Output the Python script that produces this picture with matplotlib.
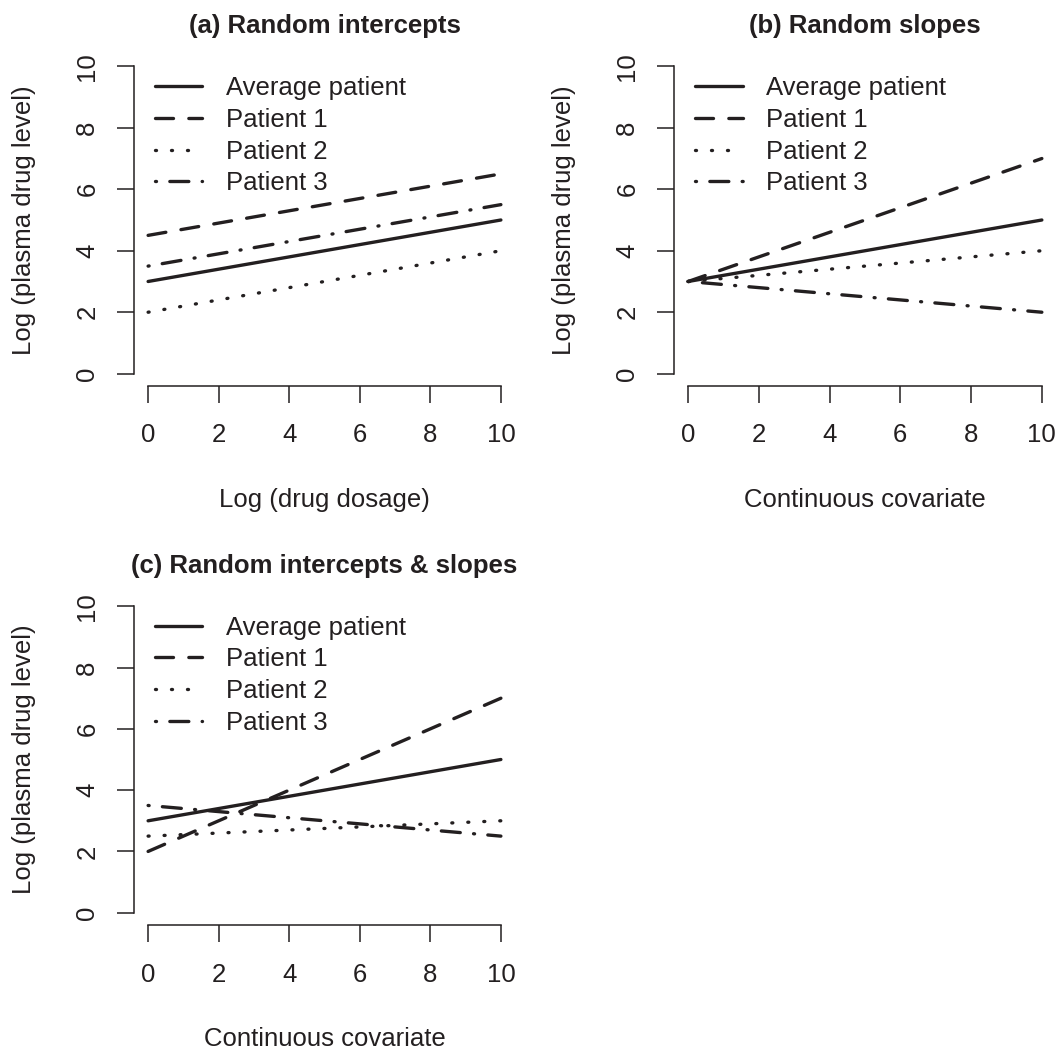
import matplotlib
matplotlib.use('Agg')
import matplotlib.pyplot as plt

# ---- data ----
x_vals = [0, 10]
legend_labels = ['Average patient', 'Patient 1', 'Patient 2', 'Patient 3']
ticks = [0, 2, 4, 6, 8, 10]

a_avg = [3, 5]
a_p1 = [4.5, 6.5]
a_p2 = [2, 4]
a_p3 = [3.5, 5.5]

b_avg = [3, 5]
b_p1 = [3, 7]
b_p2 = [3, 4]
b_p3 = [3, 2]

c_avg = [3, 5]
c_p1 = [2, 7]
c_p2 = [2.5, 3]
c_p3 = [3.5, 2.5]

titles = ['(a) Random intercepts', '(b) Random slopes', '(c) Random intercepts & slopes']
xlabels = ['Log (drug dosage)', 'Continuous covariate', 'Continuous covariate']
ylabel = 'Log (plasma drug level)'

# ---- style ----
plt.rcParams['font.family'] = ['Liberation Sans', 'DejaVu Sans']
FS = 18.5
COL = '#231f20'
LW = 2.4
styles = [
    dict(linestyle='-'),
    dict(linestyle=(0, (5.4, 4.6))),
    dict(linestyle=(0, (0.3, 4.5))),
    dict(linestyle=(0, (0.3, 4.0, 5.7, 4.0))),
]

W, H = 1060, 1049
fig = plt.figure(figsize=(W / 100, H / 100), dpi=100)

def px_axes(left, top, right, bottom):
    return fig.add_axes([left / W, 1 - bottom / H, (right - left) / W, (bottom - top) / H])

axes = [px_axes(134, 54, 515, 386), px_axes(674, 54, 1056, 386), px_axes(134, 594, 515, 925)]
data = [[a_avg, a_p1, a_p2, a_p3], [b_avg, b_p1, b_p2, b_p3], [c_avg, c_p1, c_p2, c_p3]]

for ax, series, title, xl in zip(axes, data, titles, xlabels):
    for ys, st, lab in zip(series, styles, legend_labels):
        ax.plot(x_vals, ys, color=COL, lw=LW, dash_capstyle='round',
                solid_capstyle='round', label=lab, **st)
    ax.set_xlim(-0.4, 10.4)
    ax.set_ylim(-0.4, 10.4)
    ax.set_xticks(ticks)
    ax.set_yticks(ticks)
    for s in ['top', 'right']:
        ax.spines[s].set_visible(False)
    for s in ['left', 'bottom']:
        ax.spines[s].set_linewidth(1.1)
        ax.spines[s].set_color(COL)
    ax.spines['left'].set_bounds(0, 10)
    ax.spines['bottom'].set_bounds(0, 10)
    ax.tick_params(axis='both', direction='out', length=12, width=1.1, color=COL,
                   labelsize=FS, labelcolor=COL)
    ax.tick_params(axis='x', pad=15)
    ax.tick_params(axis='y', pad=13, labelrotation=90)
    for t in ax.get_yticklabels():
        t.set_va('center')
    ax.set_title(title, fontsize=FS, fontweight='bold', color=COL, y=1.064,
                 va='baseline', pad=0)
    ax.set_xlabel(xl, fontsize=FS, color=COL)
    ax.xaxis.label.set_va('center')
    ax.xaxis.set_label_coords(0.5, -0.343)
    ax.set_ylabel(ylabel, fontsize=FS, color=COL)
    ax.yaxis.label.set_va('center')
    ax.yaxis.set_label_coords(-0.289, 0.5)
    ax.legend(loc='upper left', bbox_to_anchor=(0.055, 0.935), frameon=False,
              fontsize=FS, handlelength=1.85, handletextpad=0.92, labelspacing=0.31,
              borderpad=0, borderaxespad=0, labelcolor=COL)

fig.savefig('out.png', dpi=100)
